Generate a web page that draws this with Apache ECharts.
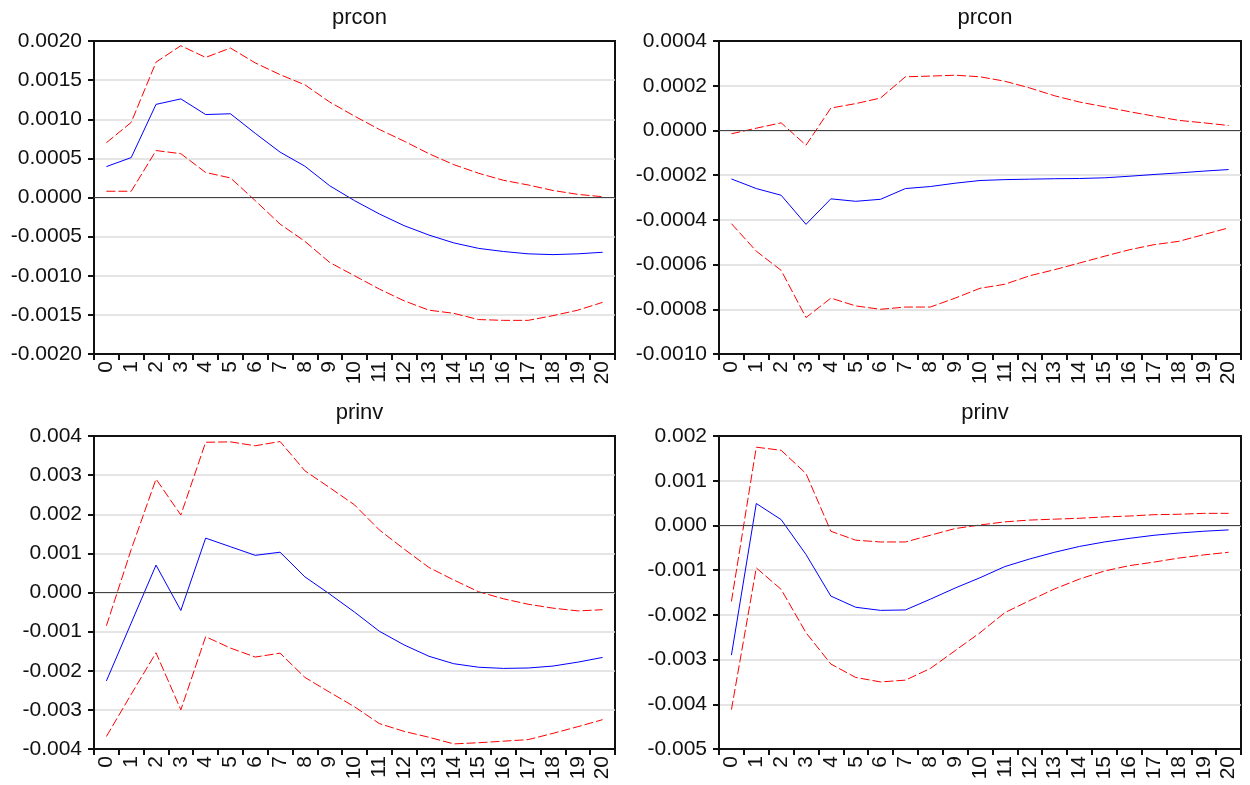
<!DOCTYPE html>
<html><head><meta charset="utf-8">
<script src="https://cdn.jsdelivr.net/npm/echarts@6/dist/echarts.min.js"></script>
<style>html,body{margin:0;padding:0;background:#fff}#c{width:1250px;height:785px}</style>
</head><body><div id="c"></div>
<script>
const periods = ['0','1','2','3','4','5','6','7','8','9','10','11','12','13','14','15','16','17','18','19','20'];
const titles = ['prcon','prcon','prinv','prinv'];

// Panel 1 (top-left)
const p1Resp = [0.000395,0.00051,0.00119,0.00126,0.00106,0.00107,0.00082,0.00058,0.00040,0.00015,-0.00004,-0.00021,-0.00036,-0.00048,-0.00058,-0.00065,-0.00069,-0.00072,-0.00073,-0.00072,-0.00070];
const p1Up   = [0.00070,0.00096,0.00173,0.00194,0.00179,0.00191,0.00172,0.00157,0.00144,0.00122,0.00104,0.00087,0.00072,0.00056,0.00042,0.00031,0.00022,0.00016,0.00009,0.00004,0.00001];
const p1Lo   = [0.00008,0.00008,0.00060,0.00056,0.00032,0.00025,-0.00004,-0.00034,-0.00056,-0.00083,-0.00100,-0.00117,-0.00132,-0.00144,-0.00148,-0.00156,-0.00157,-0.00157,-0.00151,-0.00144,-0.00134];

// Panel 2 (top-right)
const p2Resp = [-0.000217,-0.00026,-0.00029,-0.00042,-0.000306,-0.000317,-0.000308,-0.00026,-0.000251,-0.000236,-0.000224,-0.00022,-0.000218,-0.000216,-0.000215,-0.000212,-0.000205,-0.000197,-0.00019,-0.000182,-0.000175];
const p2Up   = [-0.000015,0.00001,0.000034,-0.000066,0.0001,0.00012,0.000145,0.00024,0.000243,0.000247,0.00024,0.00022,0.00019,0.000155,0.000127,0.000106,0.000084,0.000064,0.000045,0.000034,0.000022];
const p2Lo   = [-0.000417,-0.00054,-0.000626,-0.000837,-0.00075,-0.000785,-0.0008,-0.00079,-0.00079,-0.00075,-0.000706,-0.000688,-0.00065,-0.000623,-0.000593,-0.000563,-0.000534,-0.000511,-0.000496,-0.000466,-0.000436];

// Panel 3 (bottom-left)
const p3Resp = [-0.00226,-0.00078,0.00070,-0.00046,0.00139,0.00117,0.00095,0.00103,0.00040,-0.00004,-0.00050,-0.00099,-0.00134,-0.00163,-0.00182,-0.00191,-0.00194,-0.00193,-0.00188,-0.00178,-0.00166];
const p3Up   = [-0.00085,0.00110,0.00290,0.00198,0.00384,0.00385,0.00375,0.00386,0.00311,0.00268,0.00224,0.00160,0.00111,0.00064,0.00032,0.00002,-0.00016,-0.00030,-0.00040,-0.00047,-0.00044];
const p3Lo   = [-0.00368,-0.00260,-0.00154,-0.00300,-0.00113,-0.00142,-0.00165,-0.00155,-0.00217,-0.00255,-0.00292,-0.00335,-0.00355,-0.00370,-0.00387,-0.00384,-0.00380,-0.00376,-0.00360,-0.00343,-0.00325];

// Panel 4 (bottom-right)
const p4Resp = [-0.0029,0.00049,0.00013,-0.00065,-0.00158,-0.00183,-0.0019,-0.00189,-0.00165,-0.0014,-0.00117,-0.00092,-0.00075,-0.0006,-0.00047,-0.00037,-0.00029,-0.00022,-0.00017,-0.00013,-0.0001];
const p4Up   = [-0.0017,0.00175,0.00168,0.00116,-0.00013,-0.00033,-0.00037,-0.00037,-0.00022,-0.00007,0.00001,0.00008,0.00012,0.00014,0.00016,0.00019,0.00021,0.00024,0.00025,0.00027,0.00027];
const p4Lo   = [-0.00412,-0.00095,-0.00143,-0.0024,-0.0031,-0.0034,-0.0035,-0.00346,-0.0032,-0.0028,-0.0024,-0.00195,-0.00168,-0.00142,-0.0012,-0.00102,-0.0009,-0.00082,-0.00073,-0.00066,-0.0006];

const yMin = [-0.002,-0.001,-0.004,-0.005];
const yMax = [0.002,0.0004,0.004,0.002];
const yStep = [0.0005,0.0002,0.001,0.001];
const yDec = [4,4,3,3];

const panels = [[p1Resp,p1Up,p1Lo],[p2Resp,p2Up,p2Lo],[p3Resp,p3Up,p3Lo],[p4Resp,p4Up,p4Lo]];
const grids = [
  {left:94, top:41, width:521, height:313},
  {left:719, top:41, width:522, height:313},
  {left:94, top:436, width:521, height:313},
  {left:719, top:436, width:522, height:313}
];
const FONT = '"Liberation Sans", Arial, sans-serif';
const option = {
  animation:false,
  backgroundColor:'#fff',
  title: grids.map((g,i)=>({text:titles[i], left:g.left+g.width/2, top:g.top-39, textAlign:'center',
    textStyle:{fontFamily:FONT,fontSize:22,fontWeight:'normal',color:'#111'}})),
  grid: grids.map(g=>Object.assign({show:true,borderColor:'#111',borderWidth:2,backgroundColor:'transparent'},g)),
  xAxis: grids.map((g,i)=>({type:'category',gridIndex:i,data:periods,boundaryGap:true,
    axisLine:{onZero:false,lineStyle:{color:'#111',width:2}},
    axisTick:{show:true,alignWithLabel:false,interval:0,length:6,lineStyle:{color:'#111',width:2}},
    axisLabel:{interval:0,rotate:90,margin:7,fontFamily:FONT,fontSize:21,color:'#111'},
    splitLine:{show:false}})),
  yAxis: grids.map((g,i)=>({type:'value',gridIndex:i,min:yMin[i],max:yMax[i],interval:yStep[i],
    axisLine:{show:true,onZero:false,lineStyle:{color:'#111',width:2}},
    axisTick:{show:true,length:6,lineStyle:{color:'#111',width:2}},
    axisLabel:{margin:12,fontFamily:FONT,fontSize:21,color:'#111',
      formatter:v=>{if(Math.abs(v)<1e-12)v=0;return v.toFixed(yDec[i]);}},
    splitLine:{show:true,showMinLine:false,showMaxLine:false,lineStyle:{color:'#dcdcdc',width:1.5}}})),
  series: []
};
panels.forEach((p,i)=>{
  option.series.push({type:'line',xAxisIndex:i,yAxisIndex:i,data:p[0],symbol:'none',z:3,
    lineStyle:{color:'#0000ff',width:1},
    markLine:{silent:true,symbol:'none',label:{show:false},lineStyle:{color:'#444',width:1.2,type:'solid'},data:[{yAxis:0}]}});
  option.series.push({type:'line',xAxisIndex:i,yAxisIndex:i,data:p[1],symbol:'none',z:4,
    lineStyle:{color:'#ff0000',width:1,type:[9,3]}});
  option.series.push({type:'line',xAxisIndex:i,yAxisIndex:i,data:p[2],symbol:'none',z:4,
    lineStyle:{color:'#ff0000',width:1,type:[9,3]}});
});
const chart = echarts.init(document.getElementById('c'),null,{renderer:'canvas'});
chart.setOption(option);
</script>
</body></html>
